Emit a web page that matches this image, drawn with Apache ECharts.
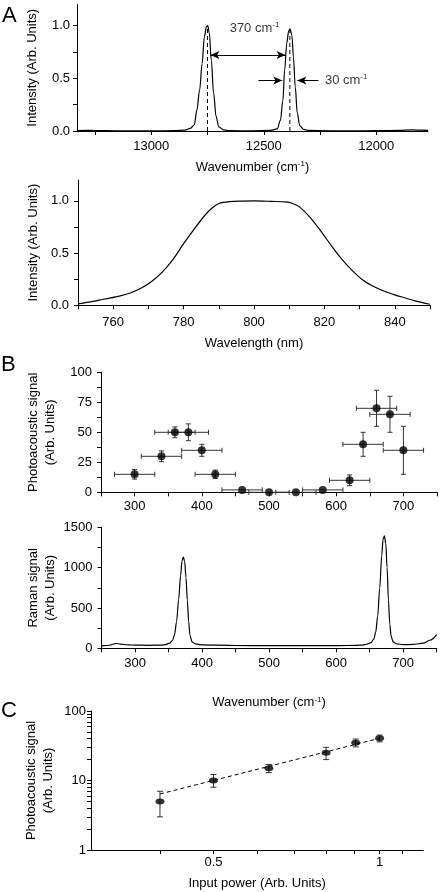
<!DOCTYPE html>
<html><head><meta charset="utf-8">
<script src="https://cdn.jsdelivr.net/npm/echarts@6/dist/echarts.min.js"></script>
<style>html,body{margin:0;padding:0;background:#fff}#c{width:442px;height:892px}</style>
</head><body><div id="c"></div><script>
// ---------- Panel A (top): laser spectrum ----------
const laserWavenumber = [13330,13280,13200,13100,13000,12900,12850,12826,12809,12797,12785,12774,12764,12755,12749,12742,12733,12723,12712,12700,12678,12650,12550,12470,12440,12426,12415,12407,12398,12389,12383,12375,12368,12360,12351,12340,12322,12300,12200,12100,12000,11900,11840,11800,11770];
const laserIntensity = [0.004,0.006,0.003,0.002,0.002,0.003,0.008,0.025,0.057,0.2,0.39,0.64,0.89,0.99,1.0,0.93,0.67,0.36,0.14,0.04,0.01,0.003,0.002,0.005,0.02,0.1,0.29,0.58,0.83,0.95,0.97,0.91,0.7,0.42,0.17,0.05,0.015,0.005,0.002,0.002,0.003,0.005,0.01,0.008,0.006];
const peakPositions = [12750, 12384];
const peakHeights = [1.0, 0.965];
const separationArrow = [12737, 12403];
const separationLevel = 0.72;
const fwhmArrowLeft = [12524, 12418];
const fwhmArrowRight = [12257, 12351];
const fwhmLevel = 0.48;
const separationText = [12541, 0.975];
const fwhmText = [12228, 0.48];
const aTopXLabels = [13000, 12500, 12000];
const aTopXTicks = [13250, 13000, 12750, 12500, 12250, 12000];
const intensityLabels = [0, 0.5, 1.0];
const intensityTicks = [0, 0.25, 0.5, 0.75, 1.0];

// ---------- Panel A (bottom): pulse spectrum ----------
const pulseWavelength = [750,753,756,759,762,765,768,771,774,777,780,783,786,788,790,793,797,800,805,809,811,813,816,819,822,825,828,831,834,837,840,843,846,850];
const pulseIntensity = [0.013,0.03,0.05,0.068,0.09,0.12,0.165,0.23,0.32,0.44,0.59,0.73,0.86,0.93,0.975,0.993,0.998,1.0,0.995,0.99,0.975,0.94,0.84,0.71,0.57,0.44,0.33,0.24,0.18,0.135,0.1,0.07,0.04,0.01];
const aBotXLabels = [760, 780, 800, 820, 840];
const aBotXTicks = [750,760,770,780,790,800,810,820,830,840,850];

// ---------- Panel B (top): photoacoustic spectrum ----------
const excitationWavelength = [300,340,360,380,400,420,460,500,540,580,620,640,660,680,700];
const paSignal = [15,30,50,50,35,15,2,0,0,2,10,40,70,65,35];
const paSignalErr = [4,4.5,4.5,7,5,3.5,0,0,0,0,4.5,10,15,15,20];
const wavelengthErr = [30,30,30,30,30,30,30,30,30,30,30,30,30,30,30];
const bXLabels = [300,400,500,600,700];
const bXTicks = [250,300,350,400,450,500,550,600,650,700,750];
const paLabels = [0,25,50,75,100];
const paTicks = [0,12.5,25,37.5,50,62.5,75,87.5,100];

// ---------- Panel B (bottom): Raman spectrum ----------
const ramanShift = [250,262,267,272,278,290,300,320,340,345,352,356,359,362,365,368,370,372,374,376,378,380,382,385,390,400,450,500,550,600,630,640,645,652,656,659,662,665,668,670,672,674,676,678,680,682,685,690,700,715,730,740,750];
const ramanSignal = [30,38,50,62,52,42,40,37,40,45,65,100,170,330,600,900,1080,1130,1080,880,600,330,160,80,55,42,35,32,32,33,37,40,50,70,110,200,400,750,1150,1350,1395,1300,1000,600,300,150,80,55,45,48,65,100,170];
const ramanLabels = [0,500,1000,1500];
const ramanTicks = [0,250,500,750,1000,1250,1500];

// ---------- Panel C: power dependence ----------
const inputPower = [0.4,0.5,0.63,0.8,0.905,1.0];
const paSignalC = [5,10,15,25,35,40.5];
const paSignalCLow = [3,8,13,20,30.5,36];
const paSignalCHigh = [7,12.2,17,30,39.5,45];
const fitPower = [0.4, 1.0];
const fitSignal = [6.4, 40.5];
const cXLabels = [0.5, 1];
const cXTicks = [0.4,0.5,0.6,0.7,0.8,0.9,1.0,1.1];
const cYLabels = [1, 10, 100];
const cYTicks = [1,2,3,4,5,6,7,8,9,10,20,30,40,50,60,70,80,90,100];

// ---------- styling / build ----------
const FONT = '"Liberation Sans", Arial, Helvetica, sans-serif';
const richName = {
  n: {color:'#000', fontSize:13, fontFamily:FONT, lineHeight:15},
  s: {color:'#000', fontSize:8, fontFamily:FONT, lineHeight:9, verticalAlign:'top'}
};
const plain = v => String(v);
function mkAxis(o) {
  const a = {
    type: o.type || 'value',
    gridIndex: o.grid,
    min: o.min, max: o.max,
    inverse: !!o.inverse,
    axisLine: {show:true, onZero:false, lineStyle:{color:'#000', width:1}},
    axisTick: {show:true, inside:false, length:4, lineStyle:{color:'#000', width:1}, customValues:o.ticks},
    axisLabel: {show:true, customValues:o.labels, margin:o.margin, color:'#000', fontSize:13, fontFamily:FONT,
      formatter: o.fmt || plain},
    splitLine: {show:false},
    minorTick: {show:false},
    name: o.name, nameLocation:'middle', nameGap:o.gap, nameMoveOverlap:false,
    nameTextStyle: {color:'#000', fontSize:13, fontFamily:FONT, lineHeight:17, rich:richName}
  };
  if (a.type === 'log') a.logBase = 10;
  return a;
}
const zip = (xs, ys) => xs.map((x, i) => [x, ys[i]]);

function errRender(capV, capH) {
  return function (params, api) {
    const x = api.value(0), y = api.value(1);
    const xl = api.value(2), xh = api.value(3), yl = api.value(4), yh = api.value(5);
    const st = {stroke:'#333', lineWidth:1, fill:null};
    const ch = [];
    const ln = (x1,y1,x2,y2) => ch.push({type:'line', shape:{x1,y1,x2,y2}, style:st});
    if (xh > xl) {
      const a = api.coord([xl, y]), b = api.coord([xh, y]);
      ln(a[0], a[1], b[0], b[1]);
      ln(a[0], a[1]-capV, a[0], a[1]+capV);
      ln(b[0], b[1]-capV, b[0], b[1]+capV);
    }
    if (yh > yl) {
      const a = api.coord([x, yl]), b = api.coord([x, yh]);
      ln(a[0], a[1], b[0], b[1]);
      ln(a[0]-capH, a[1], a[0]+capH, a[1]);
      ln(b[0]-capH, b[1], b[0]+capH, b[1]);
    }
    return {type:'group', children:ch};
  };
}

const bErrData = excitationWavelength.map((x, i) => [x, paSignal[i], x - wavelengthErr[i], x + wavelengthErr[i], paSignal[i] - paSignalErr[i], paSignal[i] + paSignalErr[i]]);
const cErrData = inputPower.map((x, i) => [x, paSignalC[i], x, x, paSignalCLow[i], paSignalCHigh[i]]);

const lineStyleBlack = {color:'#000', width:1.2};

const option = {
  animation: false,
  backgroundColor: '#fff',
  textStyle: {fontFamily: FONT},
  grid: [
    {left:77, top:4.5, width:351, height:126.5},
    {left:78, top:180, width:352, height:125.3},
    {left:101, top:372.3, width:336, height:120},
    {left:101.5, top:527.3, width:335.2, height:121},
    {left:91, top:711, width:332.3, height:140}
  ],
  xAxis: [
    mkAxis({grid:0, min:11770, max:13330, inverse:true, ticks:aTopXTicks, labels:aTopXLabels, margin:9,
      name:'{n|Wavenumber (cm}{s|-1}{n|)}', gap:29}),
    mkAxis({grid:1, min:750, max:850, ticks:aBotXTicks, labels:aBotXLabels, margin:11, name:'{n|Wavelength (nm)}', gap:31}),
    mkAxis({grid:2, min:250, max:750, ticks:bXTicks, labels:bXLabels, margin:8}),
    mkAxis({grid:3, min:250, max:750, ticks:bXTicks, labels:bXLabels, margin:9,
      name:'{n|Wavenumber (cm}{s|-1}{n|)}', gap:47}),
    mkAxis({grid:4, type:'log', min:0.3, max:1.2, ticks:cXTicks, labels:cXLabels, margin:6,
      name:'{n|Input power (Arb. Units)}', gap:26})
  ],
  yAxis: [
    mkAxis({grid:0, min:0, max:1.2, ticks:intensityTicks, labels:intensityLabels, margin:7, fmt:v => v.toFixed(1),
      name:'Intensity (Arb. Units)', gap:36}),
    mkAxis({grid:1, min:0, max:1.2, ticks:intensityTicks, labels:intensityLabels, margin:9, fmt:v => v.toFixed(1),
      name:'Intensity (Arb. Units)', gap:36}),
    mkAxis({grid:2, min:0, max:100, ticks:paTicks, labels:paLabels, margin:9,
      name:'Photoacoustic signal\n(Arb. Units)', gap:42}),
    mkAxis({grid:3, min:0, max:1500, ticks:ramanTicks, labels:ramanLabels, margin:9,
      name:'Raman signal\n(Arb. Units)', gap:43}),
    mkAxis({grid:4, type:'log', min:1, max:100, ticks:cYTicks, labels:cYLabels, margin:5,
      name:'Photoacoustic signal\n(Arb. Units)', gap:34})
  ],
  series: [
    {type:'line', xAxisIndex:0, yAxisIndex:0, data:zip(laserWavenumber, laserIntensity), symbol:'none',
      smooth:0.35, smoothMonotone:'x', lineStyle:lineStyleBlack, z:3,
      markLine:{silent:true, symbol:['arrow','arrow'], symbolSize:[6,9], label:{show:false},
        lineStyle:{color:'#000', width:1, type:'solid'},
        data:[
          [{coord:[separationArrow[0], separationLevel]}, {coord:[separationArrow[1], separationLevel]}],
          [{coord:[fwhmArrowLeft[0], fwhmLevel], symbol:'none'}, {coord:[fwhmArrowLeft[1], fwhmLevel], symbol:'arrow'}],
          [{coord:[fwhmArrowRight[0], fwhmLevel], symbol:'none'}, {coord:[fwhmArrowRight[1], fwhmLevel], symbol:'arrow'}]
        ]}
    },
    ...peakPositions.map((p, i) => ({type:'line', xAxisIndex:0, yAxisIndex:0, data:[[p, 0], [p, peakHeights[i]]],
      symbol:'none', lineStyle:{color:'#000', width:1, type:[4,3]}, z:2})),
    {type:'scatter', xAxisIndex:0, yAxisIndex:0, symbolSize:0, silent:true,
      data:[
        {value:separationText, label:{show:true, position:'inside', formatter:'{n|370 cm}{s|-1}', rich:richName}},
        {value:fwhmText, label:{show:true, position:'right', distance:0, formatter:'{n|30 cm}{s|-1}', rich:richName}}
      ]},
    {type:'line', xAxisIndex:1, yAxisIndex:1, data:zip(pulseWavelength, pulseIntensity), symbol:'none',
      smooth:0.3, lineStyle:lineStyleBlack},
    {type:'custom', xAxisIndex:2, yAxisIndex:2, data:bErrData, renderItem:errRender(2.5, 2.5),
      encode:{x:[0,2,3], y:[1,4,5]}, z:2, silent:true},
    {type:'scatter', xAxisIndex:2, yAxisIndex:2, data:zip(excitationWavelength, paSignal), symbol:'circle',
      symbolSize:8, itemStyle:{color:'#000'}, z:3},
    {type:'line', xAxisIndex:3, yAxisIndex:3, data:zip(ramanShift, ramanSignal), symbol:'none',
      smooth:0.3, smoothMonotone:'x', lineStyle:lineStyleBlack},
    {type:'line', xAxisIndex:4, yAxisIndex:4, data:zip(fitPower, fitSignal), symbol:'none',
      lineStyle:{color:'#000', width:1, type:[4,3]}, z:2},
    {type:'custom', xAxisIndex:4, yAxisIndex:4, data:cErrData, renderItem:errRender(2.5, 3),
      encode:{x:0, y:[1,4,5]}, z:3, silent:true},
    {type:'scatter', xAxisIndex:4, yAxisIndex:4, data:zip(inputPower, paSignalC), symbol:'circle',
      symbolSize:[9,6], itemStyle:{color:'#000'}, z:4}
  ],
  graphic: [
    {type:'text', left:2, top:5, style:{text:'A', fontSize:22, fontFamily:FONT, fill:'#000'}},
    {type:'text', left:1, top:354, style:{text:'B', fontSize:22, fontFamily:FONT, fill:'#000'}},
    {type:'text', left:1, top:700, style:{text:'C', fontSize:22, fontFamily:FONT, fill:'#000'}}
  ]
};
const chart = echarts.init(document.getElementById('c'), null, {renderer:'canvas'});
chart.setOption(option);
</script></body></html>
